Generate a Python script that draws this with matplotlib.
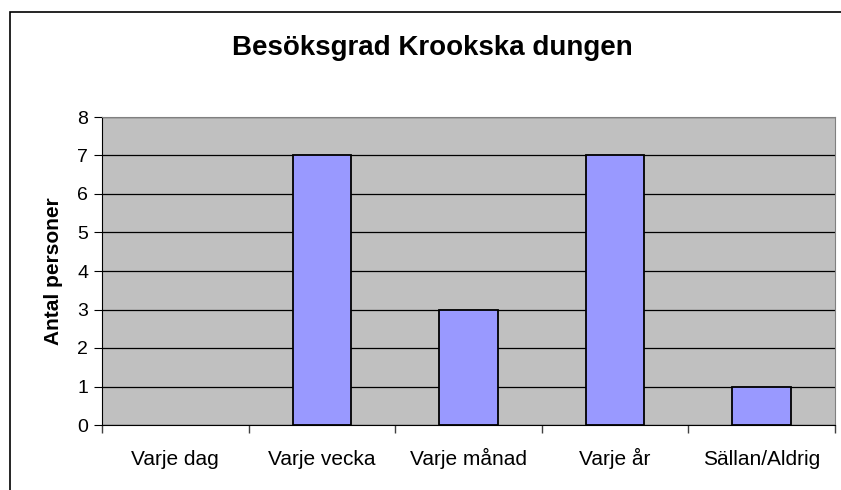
import matplotlib.pyplot as plt
import numpy as np

plt.rcParams['font.family'] = ['Liberation Sans', 'DejaVu Sans']

categories = ["Varje dag", "Varje vecka", "Varje månad", "Varje år", "Sällan/Aldrig"]
antal = [0, 7, 3, 7, 1]
y_ticks = [0, 1, 2, 3, 4, 5, 6, 7, 8]

fig = plt.figure(figsize=(8.41, 4.90), dpi=100)
# outer chart frame
fig.patches.append(plt.Rectangle((10 / 841, -0.1), 1.1, 1 - 12 / 490 + 0.1,
                                 transform=fig.transFigure, fill=False,
                                 edgecolor='black', linewidth=1.2))

ax = fig.add_axes([102 / 841, 65 / 490, 733 / 841, 308 / 490])
ax.set_facecolor('#C0C0C0')

x = np.arange(len(categories))
# zero-height bars get no outline (nothing visible in the original)
edges = ['black' if v > 0 else 'none' for v in antal]
ax.bar(x, antal, width=0.4, color='#9999FF', edgecolor=edges, linewidth=1.3, zorder=3)

ax.set_xlim(-0.5, len(categories) - 0.5)
ax.set_ylim(0, 8)
ax.set_yticks(y_ticks)
ax.yaxis.grid(True, color='black', linewidth=0.9, zorder=1)
ax.set_axisbelow(True)

ax.set_xticks(x)
ax.set_xticklabels(categories, fontsize=15)
for lbl in ax.get_xticklabels():
    lbl.set_verticalalignment('baseline')
ax.tick_params(axis='x', length=0, pad=29)
ax.set_xticks(np.arange(-0.5, len(categories)), minor=True)
ax.tick_params(axis='x', which='minor', length=6, direction='out', width=1, color='#404040')
ax.tick_params(axis='y', labelsize=14, length=6, direction='out', pad=4)

for side in ['top', 'right']:
    ax.spines[side].set_color('#808080')
for side in ['left', 'bottom']:
    ax.spines[side].set_color('black')

ax.set_ylabel("Antal personer", fontsize=15, fontweight='bold', labelpad=10)

fig.text(0.514, 1 - 48 / 490, "Besöksgrad Krookska dungen", ha='center', va='center',
         fontsize=20, fontweight='bold')

fig.savefig('out.png', dpi=100)
